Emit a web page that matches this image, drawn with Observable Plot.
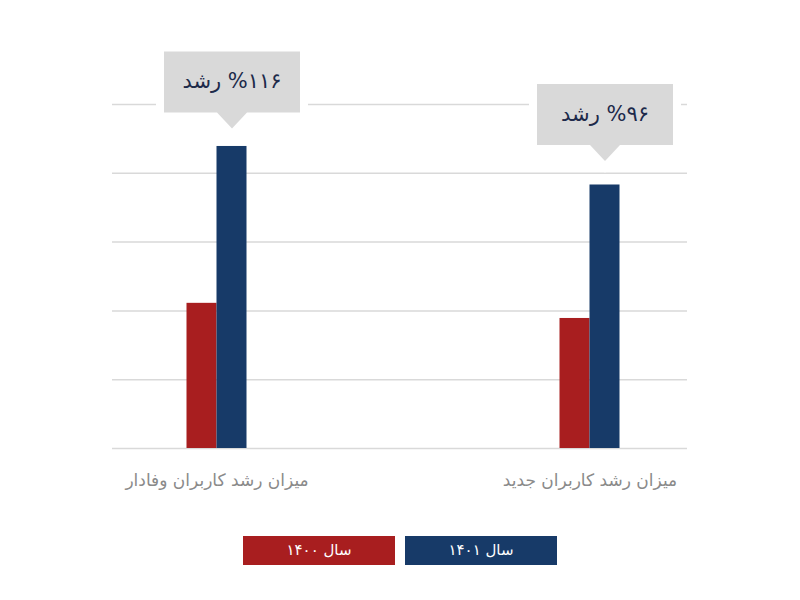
<!DOCTYPE html>
<html>
<head>
<meta charset="utf-8">
<script src="https://cdn.jsdelivr.net/npm/d3@7"></script>
<script src="https://cdn.jsdelivr.net/npm/@observablehq/plot@0.6"></script>
<style>
  body { margin: 0; background: #fff; font-family: "DejaVu Sans", sans-serif; }
  #chart { width: 800px; }
  #legend { display: flex; justify-content: center; gap: 10px; margin-top: 16px; }
  #legend div { width: 152px; height: 29px; line-height: 29px; color: #fff; text-align: center; font-size: 15px; }
</style>
</head>
<body>
<div id="chart"></div>
<div id="legend"></div>
<script>
const groups = ["میزان رشد کاربران وفادار", "میزان رشد کاربران جدید"];
const seriesNames = ["سال ۱۴۰۰", "سال ۱۴۰۱"];
const values1400 = [2.11, 1.89];
const values1401 = [4.39, 3.83];
const growthLabels = ["%۱۱۶ رشد", "%۹۶ رشد"];
const gridTicks = [0, 1, 2, 3, 4, 5];
const colors = ["#a81e1f", "#173a68"];

const rows1400 = groups.map((g, i) => ({group: g, value: values1400[i]}));
const rows1401 = groups.map((g, i) => ({group: g, value: values1401[i], label: "\u202B" + growthLabels[i] + "\u202C"}));

// layout constants
const BW = 373;      // band width
const BAR = 30;      // bar width
const tipGaps = [18, 24]; // pixel gap between bar top and callout pointer

const calloutSymbol = {
  draw(ctx) {
    const w = 68, h = 61, pw = 15, ph = 16;
    ctx.moveTo(0, 0);
    ctx.lineTo(-pw, -ph);
    ctx.lineTo(-w, -ph);
    ctx.lineTo(-w, -ph - h);
    ctx.lineTo(w, -ph - h);
    ctx.lineTo(w, -ph);
    ctx.lineTo(pw, -ph);
    ctx.closePath();
  }
};

const calloutMarks = rows1401.flatMap((r, i) => [
  Plot.dot([r], {x: "group", y: "value", dx: BAR / 2, dy: -tipGaps[i], symbol: calloutSymbol,
    fill: "#d9d9d9", stroke: "white", strokeWidth: 16, strokeLinejoin: "miter", paintOrder: "stroke"}),
  Plot.text([r], {x: "group", y: "value", text: "label", dx: BAR / 2, dy: -tipGaps[i] - 16 - 31,
    fill: "#1d2a4a", fontSize: 21})
]);

const chart = Plot.plot({
  width: 800,
  height: 520,
  marginLeft: 112,
  marginRight: 113,
  marginTop: 104,
  marginBottom: 72,
  style: {fontFamily: "DejaVu Sans, sans-serif", background: "#fff"},
  x: {type: "band", domain: groups, range: [29.5, 775.5], padding: 0, label: null},
  y: {domain: [0, 5], axis: null},
  marks: [
    Plot.ruleY(gridTicks, {stroke: "#d9d9d9", strokeWidth: 1.5}),
    Plot.barY(rows1400, {x: "group", y: "value", fill: colors[0], insetLeft: BW / 2 - BAR, insetRight: BW / 2}),
    Plot.barY(rows1401, {x: "group", y: "value", fill: colors[1], insetLeft: BW / 2, insetRight: BW / 2 - BAR}),
    ...calloutMarks,
    Plot.axisX({tickSize: 0, tickPadding: 25, fontSize: 17, color: "#8a8a8a", fill: "#8a8a8a"})
  ]
});
document.getElementById("chart").append(chart);

const legend = d3.select("#legend");
seriesNames.forEach((s, i) => {
  legend.append("div").attr("dir", "rtl").style("background", colors[i]).text(s);
});
</script>
</body>
</html>
